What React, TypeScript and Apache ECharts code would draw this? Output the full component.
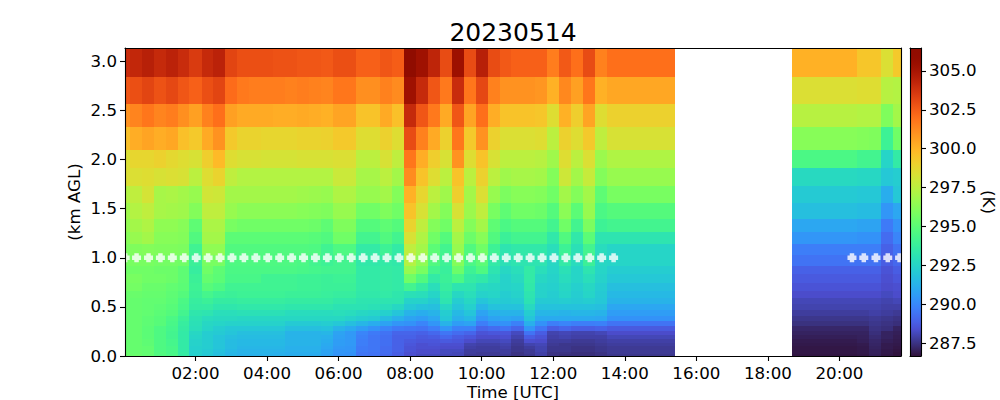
import React, { useEffect, useRef } from "react";
import * as echarts from "echarts";

const TITLE = "20230514";
const X_NAME = "Time [UTC]";
const Y_NAME = "(km AGL)";
const CB_NAME = "(K)";
const xTicks = [2, 4, 6, 8, 10, 12, 14, 16, 18, 20];
const yTicks = [0, 0.5, 1, 1.5, 2, 2.5, 3];
const cbTicks = [287.5, 290, 292.5, 295, 297.5, 300, 302.5, 305];
const xRange = [0.03, 21.72];
const yRange = [0, 3.136];
const cbRange = [286.67, 306.47];

// hours UTC: column edges before and after the data gap
const morningEdges = [0.03,0.17,0.50,0.83,1.17,1.50,1.83,2.17,2.50,2.83,3.17,3.50,3.83,4.17,4.50,4.83,5.17,5.50,5.83,6.17,6.50,6.83,7.17,7.50,7.83,8.17,8.50,8.83,9.17,9.50,9.83,10.17,10.50,10.83,11.17,11.50,11.83,12.17,12.50,12.83,13.17,13.50,15.40];
const eveningEdges = [18.67,20.50,20.83,21.17,21.50,21.72];
// km, top to bottom
const heightEdges = [3.14,2.84,2.57,2.33,2.10,1.91,1.73,1.56,1.40,1.26,1.14,1.03,0.92,0.83,0.74,0.66,0.59,0.53,0.47,0.41,0.36,0.31,0.25,0.21,0.17,0.13,0.10,0.07,0.04,0.02,0];

const markerTimes = [0.035,0.353,0.687,1.02,1.353,1.687,2.02,2.353,2.687,3.02,3.353,3.687,4.02,4.353,4.687,5.02,5.353,5.687,6.02,6.353,6.687,7.02,7.353,7.687,8.02,8.353,8.687,9.02,9.353,9.687,10.02,10.353,10.687,11.02,11.353,11.687,12.02,12.353,12.687,13.02,13.353,13.687,20.35,20.68,21.02,21.35,21.68];
const markerHeight = 1.0;

// Kelvin, one row per height band (top first), one value per column
const tempRows = [
[304.0,304.2,304.5,304.1,304.4,304.0,303.5,304.1,304.4,303.2,302.9,302.9,302.9,302.8,302.8,302.7,302.7,302.6,302.9,302.9,302.4,302.4,302.7,302.5,306.4,305.3,304.3,303.0,305.4,303.0,304.5,303.0,302.6,302.4,302.4,302.4,301.6,302.6,302.0,303.0,301.5,302.0,300.1,299.4,299.4,298.4,299.3],
[302.7,302.9,303.2,302.8,303.1,302.7,302.4,302.9,303.2,302.1,301.7,301.6,301.6,301.6,301.5,301.6,301.5,301.4,301.8,301.8,301.1,301.1,301.5,301.2,305.3,304.1,302.7,301.7,304.0,301.8,303.1,301.5,301.0,301.0,301.0,300.9,300.1,301.3,300.6,301.8,300.1,300.4,298.4,298.5,298.5,297.4,297.3],
[301.0,301.4,301.8,301.4,301.6,301.1,300.6,301.5,302.0,300.6,300.3,300.3,300.3,300.2,300.2,300.3,300.2,300.1,300.5,300.5,299.5,299.5,300.3,299.6,304.1,302.7,301.7,300.3,302.7,300.5,302.0,300.2,299.5,299.5,299.5,299.4,298.5,300.1,299.1,300.5,298.5,299.0,297.4,297.3,297.3,296.0,296.9],
[299.6,300.2,300.5,300.2,300.4,299.6,299.3,300.3,301.0,299.3,298.9,298.9,298.8,298.8,298.8,298.9,298.9,299.0,299.3,299.3,298.5,298.5,299.0,298.5,303.0,301.5,300.3,299.0,301.8,299.3,301.0,299.0,298.4,298.4,298.4,298.5,297.5,299.0,298.5,299.3,297.6,298.3,296.2,296.1,296.0,294.0,295.6],
[298.4,298.8,298.8,299.0,298.7,298.5,298.3,299.1,299.8,298.5,298.3,298.3,298.2,298.2,298.2,298.3,298.3,298.3,298.4,298.4,297.5,297.5,298.3,297.6,301.8,300.2,299.1,298.3,301.0,298.5,299.5,298.3,297.5,297.5,297.5,297.4,296.8,298.5,297.5,298.4,296.7,297.2,294.5,294.2,294.2,292.5,293.5],
[298.4,298.4,298.5,298.3,298.4,298.3,297.5,298.5,298.9,297.6,297.3,297.3,297.3,297.3,297.3,297.3,297.3,297.3,297.9,297.9,297.0,297.0,297.5,296.9,301.2,299.5,298.5,297.5,299.5,297.5,299.0,297.5,296.8,297.0,297.0,296.9,296.1,298.0,296.9,297.8,296.1,296.6,292.7,292.6,292.6,292.0,292.2],
[297.3,297.6,298.2,297.0,297.1,296.9,296.6,298.1,298.0,296.9,296.9,296.9,296.9,296.9,296.9,296.8,296.7,296.6,297.2,297.2,296.6,296.6,296.9,296.1,300.1,298.8,297.5,296.8,299.1,296.9,298.4,296.6,295.9,296.2,296.2,296.1,295.6,296.9,296.1,296.9,295.1,295.8,292.1,292.0,292.0,291.1,292.0],
[296.8,297.3,297.6,297.0,296.9,296.8,296.1,297.6,297.6,296.6,296.3,296.3,296.3,296.3,296.3,296.2,296.1,296.0,296.6,296.6,295.6,295.6,296.0,295.6,299.5,298.3,296.9,296.1,298.3,296.7,297.6,295.8,295.1,295.6,295.6,295.5,294.8,296.3,295.0,296.6,294.5,294.8,291.7,291.6,291.6,290.4,290.9],
[296.5,296.9,297.2,296.4,296.4,296.2,295.1,297.1,297.1,295.8,295.6,295.6,295.6,295.6,295.6,295.6,295.5,295.1,296.0,296.0,294.8,294.8,295.1,294.8,298.9,297.6,296.1,295.6,297.5,296.1,296.9,295.1,294.5,294.8,294.8,294.8,294.2,295.6,294.2,295.9,294.0,294.2,290.9,290.8,290.8,289.6,290.3],
[296.2,296.6,296.9,296.2,296.2,296.1,294.7,296.9,296.9,295.0,295.0,295.0,295.0,295.0,295.0,295.0,294.9,294.7,295.6,295.6,294.2,294.2,294.7,294.2,298.3,297.2,295.6,294.8,296.9,295.5,296.2,294.7,293.9,294.2,294.2,294.2,293.4,294.7,293.4,295.0,293.2,293.2,290.4,290.3,290.3,289.2,289.9],
[295.9,296.0,296.1,296.0,296.0,295.9,294.1,296.4,296.4,294.7,294.7,294.7,294.7,294.7,294.7,294.7,294.6,294.1,294.6,294.6,293.5,293.5,294.0,293.5,297.6,296.9,295.0,294.2,296.6,294.7,295.6,294.0,293.2,293.4,293.4,293.4,292.9,294.0,293.0,294.2,292.8,292.5,289.7,289.7,289.7,288.9,289.4],
[295.8,295.8,295.8,295.7,295.7,295.6,293.9,295.8,295.8,294.6,294.6,294.6,294.6,294.6,294.6,294.5,294.2,294.0,294.2,294.2,293.4,293.4,293.5,293.4,297.3,296.4,294.7,294.0,296.1,294.5,295.0,293.5,293.0,293.2,293.2,293.2,292.6,293.5,292.8,293.9,292.6,292.5,289.4,289.4,289.4,288.8,289.1],
[295.6,295.6,295.6,295.5,295.5,295.1,293.7,295.6,295.1,294.5,294.5,294.5,294.5,294.5,294.5,294.4,294.3,294.2,294.2,294.2,293.5,293.5,293.6,293.5,296.6,295.8,294.2,293.8,295.5,294.0,294.6,293.2,292.6,292.9,293.5,292.9,292.5,293.0,292.5,293.2,292.5,292.2,288.9,288.9,288.9,288.5,288.8],
[295.8,295.8,295.6,295.6,295.5,295.1,293.9,295.3,295.0,294.4,294.4,294.4,294.1,294.1,294.1,294.0,294.0,293.9,294.0,294.0,293.5,293.5,293.6,293.5,295.6,294.7,293.5,293.9,294.5,293.6,293.4,292.9,292.4,292.7,293.5,292.6,292.4,292.8,292.5,292.9,292.4,292.0,288.7,288.7,288.7,288.4,288.6],
[295.7,295.7,295.4,295.4,295.2,295.0,294.0,294.9,294.6,294.1,294.1,294.1,294.1,294.1,294.1,294.0,294.0,293.9,293.9,293.9,293.5,293.5,293.6,293.5,294.2,293.6,292.9,293.7,293.2,293.2,292.7,292.6,292.4,292.5,293.4,292.4,292.3,292.6,292.3,292.6,292.2,291.7,288.5,288.5,288.5,288.3,288.4],
[295.4,295.4,295.3,295.3,295.1,294.8,293.9,294.3,294.0,293.9,294.0,294.0,294.0,294.0,293.9,293.9,293.9,293.8,293.7,293.7,293.4,293.4,293.5,293.3,293.0,292.9,292.5,293.4,292.6,292.9,292.4,292.5,292.2,292.4,293.2,292.4,292.2,292.5,292.2,292.5,292.1,291.5,288.3,288.3,288.3,288.2,288.3],
[295.4,295.3,295.2,295.2,295.0,294.5,293.7,293.9,293.6,293.6,293.7,293.7,293.7,293.7,293.6,293.6,293.6,293.6,293.4,293.4,293.2,293.2,293.2,293.2,292.4,292.4,292.1,293.2,292.2,292.6,291.9,292.2,292.1,292.2,293.1,292.1,292.1,292.2,292.1,292.2,292.0,291.3,288.1,288.1,288.1,288.0,288.1],
[295.4,295.3,295.2,295.1,294.9,294.4,293.6,293.6,293.3,293.3,293.4,293.4,293.4,293.4,293.3,293.3,293.3,293.3,293.1,293.1,293.1,293.0,292.9,292.6,292.0,291.8,291.7,292.6,291.9,292.3,291.4,291.8,291.8,291.8,292.7,291.8,291.8,291.8,291.8,291.8,291.7,290.9,288.0,288.0,288.0,287.9,287.9],
[295.3,295.3,295.2,295.0,294.8,294.2,293.3,293.2,292.9,292.9,293.0,293.0,293.0,293.0,292.8,292.8,292.8,292.8,292.9,292.8,292.6,292.5,292.3,291.9,291.3,291.1,291.3,292.2,291.5,291.9,290.8,291.2,291.3,291.3,292.2,291.4,291.4,291.3,291.4,291.4,291.3,290.6,287.8,287.8,287.9,287.8,287.7],
[295.3,295.3,295.1,294.9,294.5,293.9,293.1,292.8,292.7,292.7,292.6,292.6,292.6,292.6,292.6,292.6,292.6,292.6,292.6,292.4,292.2,292.1,291.6,291.2,290.8,290.6,290.9,292.0,291.2,291.5,290.4,290.8,290.9,290.8,291.9,291.0,291.0,291.0,291.0,291.0,290.9,290.3,287.6,287.6,287.7,287.6,287.5],
[295.3,295.3,295.1,294.9,294.4,293.7,293.0,292.6,292.5,292.4,292.4,292.4,292.4,292.4,292.1,292.1,292.1,292.2,292.0,291.7,291.4,291.1,290.8,290.4,290.3,289.9,290.4,291.3,290.6,290.8,289.7,290.2,290.3,289.8,291.2,290.3,289.7,289.9,289.7,289.7,289.8,289.4,287.45,287.45,287.6,287.5,287.4],
[295.3,295.3,295.0,294.6,294.3,293.6,292.9,292.5,292.2,292.0,292.0,292.0,292.0,292.0,291.7,291.7,291.7,291.8,291.3,291.0,290.6,290.3,289.9,289.6,289.5,289.4,289.7,290.4,289.8,289.8,289.0,289.2,289.4,289.0,290.4,289.5,288.8,289.0,288.8,288.8,288.9,288.7,287.2,287.2,287.5,287.4,287.1],
[295.3,295.3,295.0,294.6,294.2,293.5,292.6,292.2,292.1,291.9,291.7,291.7,291.7,291.7,291.3,291.3,291.3,291.4,290.8,290.5,289.9,289.6,289.4,289.0,289.0,288.9,289.1,289.5,289.2,289.0,288.5,288.6,288.6,288.2,289.4,288.8,288.0,288.1,288.0,288.0,288.1,288.3,287.1,287.1,287.4,287.1,287.0],
[295.3,295.3,295.0,294.6,294.2,293.5,292.5,292.2,291.9,291.7,291.6,291.6,291.6,291.6,291.3,291.3,291.3,291.2,290.7,290.5,289.8,289.5,289.3,288.9,288.9,288.7,288.8,289.1,288.8,288.6,288.3,288.3,288.4,288.0,288.8,288.5,287.9,288.0,287.9,287.9,287.9,288.1,287.0,287.05,287.3,287.1,286.95],
[295.3,295.3,295.1,294.6,294.3,293.5,292.4,292.2,291.9,291.6,291.5,291.5,291.5,291.5,291.3,291.3,291.3,291.1,290.6,290.5,289.7,289.5,289.3,288.9,288.7,288.6,288.6,288.7,288.6,288.3,288.1,288.1,288.2,287.8,288.4,288.3,287.8,287.8,287.7,287.7,287.8,287.9,286.9,287.0,287.2,287.0,286.9],
[295.3,295.3,295.1,294.6,294.3,293.5,292.4,292.2,291.9,291.6,291.5,291.5,291.5,291.5,291.3,291.3,291.3,291.0,290.6,290.5,289.7,289.5,289.3,288.9,288.6,288.4,288.5,288.4,288.4,288.0,287.9,287.9,288.0,287.7,288.0,288.1,287.7,287.6,287.6,287.6,287.7,287.8,286.85,286.9,287.15,286.9,286.85],
[295.3,295.3,295.2,294.6,294.4,293.5,292.3,292.2,291.9,291.6,291.4,291.4,291.4,291.4,291.2,291.2,291.2,290.9,290.5,290.4,289.6,289.5,289.2,288.9,288.5,288.4,288.4,288.3,288.3,287.9,287.8,287.8,287.9,287.6,287.8,288.0,287.6,287.6,287.5,287.5,287.6,287.7,286.8,286.85,287.1,286.9,286.8],
[295.3,295.3,295.2,294.6,294.4,293.5,292.3,292.1,291.8,291.5,291.3,291.3,291.3,291.3,291.2,291.2,291.2,290.8,290.4,290.4,289.6,289.5,289.2,288.9,288.5,288.3,288.3,288.2,288.2,287.8,287.8,287.8,287.8,287.6,287.7,288.0,287.6,287.6,287.5,287.5,287.6,287.7,286.8,286.85,287.05,286.85,286.75],
[295.4,295.3,295.2,294.7,294.4,293.6,292.3,292.1,291.7,291.4,291.3,291.3,291.3,291.2,291.1,291.1,291.1,290.8,290.4,290.3,289.5,289.4,289.2,288.8,288.4,288.3,288.3,288.2,288.1,287.8,287.7,287.7,287.8,287.5,287.7,287.9,287.5,287.5,287.4,287.4,287.5,287.7,286.8,286.85,287.05,286.85,286.7],
[295.4,295.4,295.2,294.7,294.5,293.6,292.3,292.0,291.7,291.4,291.2,291.2,291.2,291.2,291.1,291.1,291.0,290.7,290.3,290.3,289.5,289.4,289.1,288.8,288.4,288.2,288.2,288.1,288.1,287.7,287.7,287.7,287.7,287.5,287.6,287.9,287.5,287.4,287.4,287.4,287.5,287.6,286.75,286.8,287.0,286.8,286.7],
];

const FONT = "DejaVu Sans";
const TICK_PX = 16.67;

function turbo(t: number) {
  const x = Math.max(0, Math.min(1, t));
  if (x < 0.08) {
    // the polynomial fit is poor at the dark end of the map
    const k = x < 0.04 ? x / 0.04 : (x - 0.04) / 0.04;
    const p = x < 0.04 ? [48, 18, 59] : [58, 50, 128];
    const q = x < 0.04 ? [58, 50, 128] : [70, 76, 196];
    const m = (i: number) => Math.round(p[i] + (q[i] - p[i]) * k);
    return `rgb(${m(0)},${m(1)},${m(2)})`;
  }
  const r = 0.13572138 + x * (4.6153926 + x * (-42.66032258 + x * (132.13108234 + x * (-152.94239396 + x * 59.28637943))));
  const g = 0.09140261 + x * (2.19418839 + x * (4.84296658 + x * (-14.18503333 + x * (4.27729857 + x * 2.82956604))));
  const b = 0.1066733 + x * (12.64194608 + x * (-60.58204836 + x * (110.36276771 + x * (-89.90310912 + x * 27.34824973))));
  const c = (v: number) => Math.round(255 * Math.max(0, Math.min(1, v)));
  return `rgb(${c(r)},${c(g)},${c(b)})`;
}
const colorOf = (k: number) => turbo((k - cbRange[0]) / (cbRange[1] - cbRange[0]));

function buildCells() {
  const starts: number[] = [];
  const ends: number[] = [];
  [morningEdges, eveningEdges].forEach((edges) => {
    for (let i = 0; i + 1 < edges.length; i++) {
      starts.push(edges[i]);
      ends.push(edges[i + 1]);
    }
  });
  const cells: number[][] = [];
  tempRows.forEach((row, r) => {
    row.forEach((v, c) => {
      cells.push([starts[c], ends[c], heightEdges[r + 1], heightEdges[r], v]);
    });
  });
  return cells;
}

const hhmm = (h: number) => `${String(h).padStart(2, "0")}:00`;
const lineStyle = { color: "#000", width: 1.1 };

function frameAxis(gridIndex: number, position: string, range: number[]) {
  return {
    type: "value",
    gridIndex,
    position,
    min: range[0],
    max: range[1],
    z: 5,
    axisLine: { show: true, onZero: false, lineStyle },
    axisTick: { show: false },
    axisLabel: { show: false },
    splitLine: { show: false },
  };
}

function tickAxis(gridIndex: number, position: string, range: number[], ticks: number[], fmt: (v: number) => string, margin: number) {
  return {
    ...frameAxis(gridIndex, position, range),
    axisTick: { show: true, length: 5, lineStyle, customValues: ticks },
    axisLabel: {
      show: true,
      customValues: ticks,
      formatter: fmt,
      margin,
      fontFamily: FONT,
      fontSize: TICK_PX,
      color: "#000",
    },
  };
}

export default function App() {
  const ref = useRef<HTMLDivElement>(null);
  useEffect(() => {
    document.body.style.margin = "0";
    const chart = echarts.init(ref.current!, undefined, { renderer: "svg" });
    const stops: { offset: number; color: string }[] = [];
    for (let i = 0; i <= 128; i++) stops.push({ offset: i / 128, color: turbo(1 - i / 128) });

    chart.setOption({
      animation: false,
      backgroundColor: "#fff",
      title: {
        text: TITLE,
        left: 508,
        top: 15,
        textAlign: "center",
        textStyle: { fontFamily: FONT, fontSize: 25, fontWeight: "normal", color: "#000" },
      },
      grid: [
        { left: 125, top: 48, width: 776, height: 308, outerBoundsMode: "none" },
        { left: 910, top: 48, width: 11, height: 308, outerBoundsMode: "none" },
      ],
      xAxis: [
        {
          ...tickAxis(0, "bottom", xRange, xTicks, hhmm, 9),
          name: X_NAME,
          nameLocation: "middle",
          nameMoveOverlap: false,
          nameGap: 28,
          nameTextStyle: { fontFamily: FONT, fontSize: TICK_PX, color: "#000" },
        },
        frameAxis(0, "top", xRange),
        frameAxis(1, "bottom", [0, 1]),
        frameAxis(1, "top", [0, 1]),
      ],
      yAxis: [
        {
          ...tickAxis(0, "left", yRange, yTicks, (v: number) => v.toFixed(1), 8),
          name: Y_NAME,
          nameLocation: "middle",
          nameMoveOverlap: false,
          nameRotate: 90,
          nameGap: 42,
          nameTextStyle: { fontFamily: FONT, fontSize: TICK_PX, color: "#000" },
        },
        frameAxis(0, "right", yRange),
        {
          ...tickAxis(1, "right", cbRange, cbTicks, (v: number) => v.toFixed(1), 8),
          name: CB_NAME,
          nameLocation: "middle",
          nameMoveOverlap: false,
          nameRotate: -90,
          nameGap: 59,
          nameTextStyle: { fontFamily: FONT, fontSize: TICK_PX, color: "#000" },
        },
        frameAxis(1, "left", cbRange),
      ],
      series: [
        {
          type: "custom",
          xAxisIndex: 0,
          yAxisIndex: 0,
          clip: true,
          z: 2,
          encode: { x: [0, 1], y: [2, 3] },
          data: buildCells(),
          renderItem: (_p: any, api: any) => {
            const a = api.coord([api.value(0), api.value(3)]);
            const b = api.coord([api.value(1), api.value(2)]);
            const x = Math.round(a[0]);
            const y = Math.round(a[1]);
            return {
              type: "rect",
              shape: { x, y, width: Math.round(b[0]) - x, height: Math.round(b[1]) - y },
              style: { fill: colorOf(api.value(4)) },
            };
          },
        },
        {
          type: "scatter",
          xAxisIndex: 0,
          yAxisIndex: 0,
          z: 3,
          clip: true,
          symbol: "path://M2 0H6V2H8V6H6V8H2V6H0V2H2Z",
          symbolSize: 9,
          itemStyle: { color: "#fff" },
          data: markerTimes.map((t) => [t, markerHeight]),
        },
        {
          type: "custom",
          xAxisIndex: 2,
          yAxisIndex: 2,
          clip: true,
          z: 2,
          encode: { y: [0, 1] },
          data: [[cbRange[0], cbRange[1]]],
          renderItem: (_p: any, api: any) => {
            const a = api.coord([0, api.value(1)]);
            const b = api.coord([1, api.value(0)]);
            return {
              type: "rect",
              shape: { x: a[0], y: a[1], width: b[0] - a[0], height: b[1] - a[1] },
              style: { fill: new echarts.graphic.LinearGradient(0, 0, 0, 1, stops) },
            };
          },
        },
      ],
    });
    return () => chart.dispose();
  }, []);
  return <div ref={ref} style={{ width: 1000, height: 400 }} />;
}
